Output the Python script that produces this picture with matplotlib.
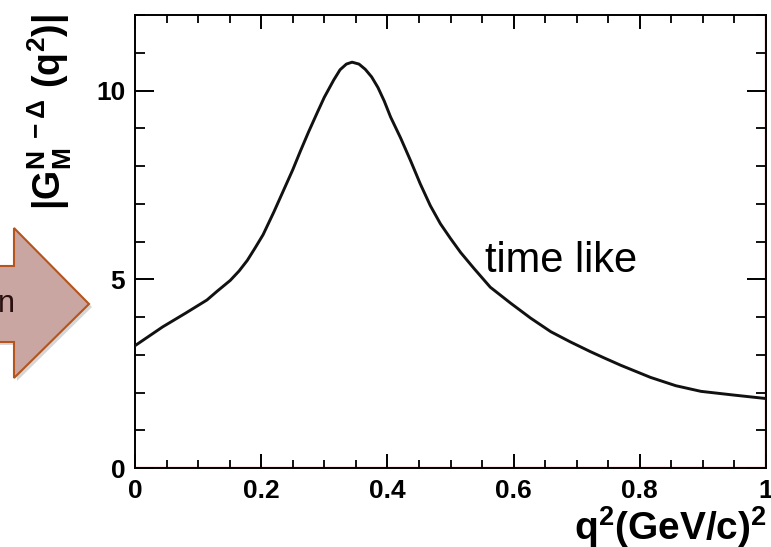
import matplotlib
matplotlib.use("Agg")
import matplotlib.pyplot as plt
from matplotlib.patches import Polygon
from matplotlib.ticker import MultipleLocator

plt.rcParams['font.family'] = ['Liberation Sans', 'DejaVu Sans']
plt.rcParams['mathtext.fontset'] = 'custom'
plt.rcParams['mathtext.rm'] = 'Liberation Sans:bold'
plt.rcParams['mathtext.it'] = 'Liberation Sans:bold'
plt.rcParams['mathtext.bf'] = 'Liberation Sans:bold'

# Data
q2 = [0.0, 0.022, 0.044, 0.08, 0.114, 0.13, 0.151, 0.165, 0.178, 0.19,
      0.203, 0.22, 0.235, 0.25, 0.262, 0.275, 0.289, 0.30, 0.315, 0.325,
      0.335, 0.344, 0.355, 0.365, 0.375, 0.385, 0.395, 0.405, 0.421, 0.437,
      0.452, 0.468, 0.484, 0.50, 0.516, 0.537, 0.563, 0.595, 0.627, 0.659,
      0.69, 0.722, 0.743, 0.77, 0.817, 0.857, 0.897, 0.95, 1.0]
gm = [3.24, 3.49, 3.74, 4.10, 4.45, 4.68, 4.97, 5.22, 5.50, 5.82,
      6.18, 6.78, 7.34, 7.90, 8.39, 8.90, 9.42, 9.82, 10.28, 10.55,
      10.70, 10.75, 10.70, 10.56, 10.36, 10.08, 9.72, 9.30, 8.74, 8.13,
      7.53, 6.95, 6.47, 6.08, 5.71, 5.29, 4.79, 4.37, 3.97, 3.61,
      3.34, 3.08, 2.92, 2.72, 2.40, 2.18, 2.03, 1.93, 1.84]

xticks = [0, 0.2, 0.4, 0.6, 0.8, 1]
xtick_labels = ['0', '0.2', '0.4', '0.6', '0.8', '1']
yticks = [0, 5, 10]
ytick_labels = ['0', '5', '10']

W, H = 771, 547
fig = plt.figure(figsize=(W / 100, H / 100), dpi=100)
ax = fig.add_axes([135 / W, 1 - 468 / H, (766 - 135) / W, (468 - 15) / H])

ax.plot(q2, gm, color='#111111', lw=2.1, zorder=3, solid_joinstyle='round')
ax.axhline(0, color='#e8707a', lw=2.4, zorder=1)
ax.axvline(1, color='#e8707a', lw=2.4, zorder=1)

ax.set_xlim(0, 1)
ax.set_ylim(0, 12)
ax.set_xticks(xticks)
ax.set_xticklabels(xtick_labels)
ax.set_yticks(yticks)
ax.set_yticklabels(ytick_labels)
ax.xaxis.set_minor_locator(MultipleLocator(0.05))
ax.yaxis.set_minor_locator(MultipleLocator(1))

for s in ax.spines.values():
    s.set_linewidth(1.4)
    s.set_color('black')

ax.tick_params(axis='x', which='major', direction='in', length=10, width=1.4,
               top=True, bottom=True, labelsize=19, pad=8)
ax.tick_params(axis='x', which='minor', direction='in', length=5.5, width=1.3,
               top=True, bottom=True)
ax.tick_params(axis='y', which='major', direction='in', length=14, width=1.4,
               left=True, right=True, labelsize=19, pad=7)
ax.tick_params(axis='y', which='minor', direction='in', length=7, width=1.3,
               left=True, right=True)
for lab in ax.get_xticklabels() + ax.get_yticklabels():
    lab.set_fontweight('bold')

ax.text(0.555, 5.2, 'time like', fontsize=30, color='black', ha='left',
        va='baseline', family=['Liberation Sans'])

# axis titles (ROOT style)
fig.text(767 / W, 7 / H, r'$\mathbf{q^{2}(GeV/c)^{2}}$', ha='right',
         va='baseline', fontsize=28)
fig.text(50 / W, 1 - 14 / H, r'$\mathbf{|G^{N\ -\Delta}_{M}\ (q^{2})|}$',
         rotation=90, ha='center', va='top', fontsize=27)

# partial arrow decoration at left edge
px = [(-20, 266), (14, 266), (14, 228), (89, 304), (14, 378), (14, 342), (-20, 342)]
shadow = Polygon([((x + 3) / W, 1 - (y + 3) / H) for x, y in px],
                 closed=True, transform=fig.transFigure, facecolor='#bbbbbb',
                 edgecolor='none', alpha=0.6, zorder=0)
arrow = Polygon([(x / W, 1 - y / H) for x, y in px], closed=True,
                transform=fig.transFigure, facecolor='#c9a6a1',
                edgecolor='#b5541c', lw=1.5, zorder=1)
fig.patches.append(shadow)
fig.patches.append(arrow)
fig.text(-2 / W, 1 - 304 / H, 'n', fontsize=22, color='#2a1010',
         ha='left', va='center', family=['Liberation Sans'])

fig.savefig('out.png', dpi=100)
